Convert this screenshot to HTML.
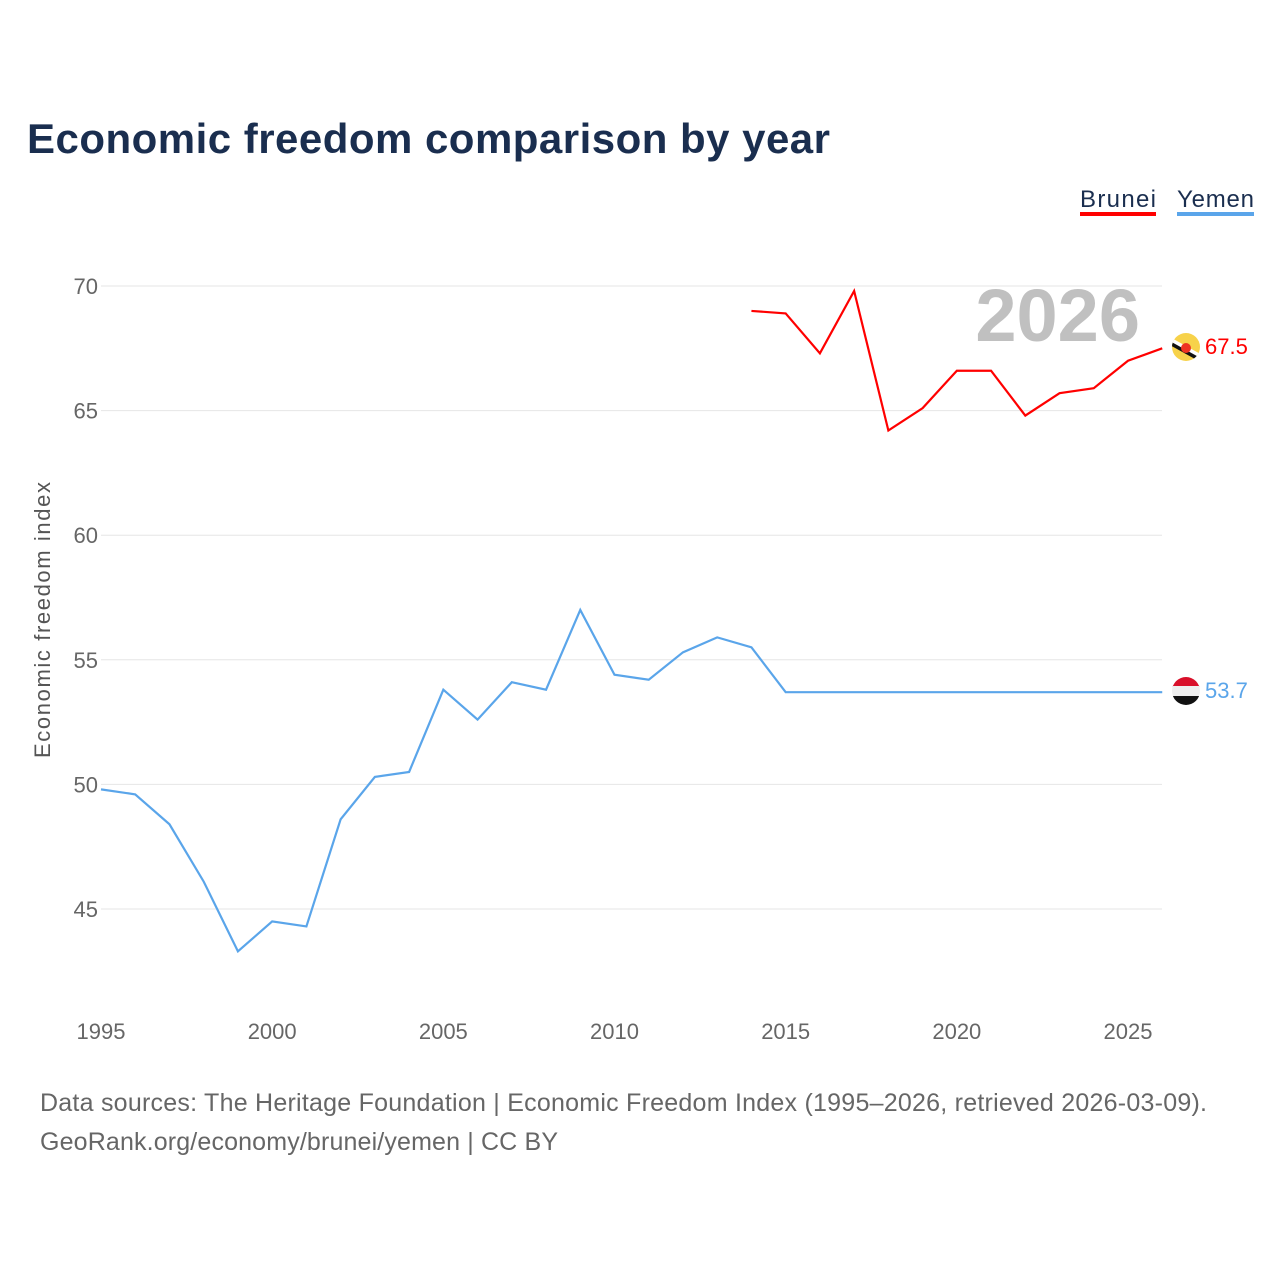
<!DOCTYPE html>
<html><head><meta charset="utf-8"><style>
body{margin:0;background:#fff;font-family:"Liberation Sans",sans-serif}
svg text{font-family:"Liberation Sans",sans-serif}
</style></head><body>
<svg id="chart" width="1280" height="1280" xmlns="http://www.w3.org/2000/svg">
<text x="27" y="153" font-size="42" font-weight="bold" fill="#1a2e4f" textLength="803">Economic freedom comparison by year</text>
<g><text x="1080" y="207" font-size="24" fill="#1a2e4f" textLength="76">Brunei</text><rect x="1080" y="212" width="76" height="4" fill="#ff0000"/></g>
<g><text x="1177" y="207" font-size="24" fill="#1a2e4f" textLength="77">Yemen</text><rect x="1177" y="212" width="77" height="4" fill="#5aa5ea"/></g>
<text x="1140" y="341" font-size="74" font-weight="bold" fill="#c0c0c0" text-anchor="end">2026</text>
<g id="grid"></g><g id="xt"></g><g id="lines"></g>
<text transform="translate(50,620) rotate(-90)" font-size="22" fill="#555" text-anchor="middle" textLength="276">Economic freedom index</text>
<g>
<clipPath id="cb"><circle cx="1186" cy="347" r="14"/></clipPath>
<g clip-path="url(#cb)"><rect x="1170" y="331" width="32" height="32" fill="#f7d24a"/><polygon points="1168,336 1204,356 1204,362 1168,342" fill="#fff"/><polygon points="1168,340 1204,360 1204,364 1168,344" fill="#111"/><circle cx="1186" cy="348" r="5" fill="#e32"/></g></g>
<g>
<clipPath id="cy"><circle cx="1186" cy="691" r="14"/></clipPath>
<g clip-path="url(#cy)"><rect x="1170" y="676" width="32" height="11" fill="#d9102a"/><rect x="1170" y="686" width="32" height="10" fill="#eee"/><rect x="1170" y="696" width="32" height="11" fill="#111"/></g></g>
<text x="1205" y="354" font-size="22" fill="#ff0000">67.5</text>
<text x="1205" y="698" font-size="22" fill="#5aa5ea">53.7</text>
<text x="40" y="1111" font-size="25" fill="#666" textLength="1167">Data sources: The Heritage Foundation | Economic Freedom Index (1995–2026, retrieved 2026-03-09).</text>
<text x="40" y="1150" font-size="25" fill="#666" textLength="518">GeoRank.org/economy/brunei/yemen | CC BY</text>
</svg>
<script>
const yemenYears=[1995,1996,1997,1998,1999,2000,2001,2002,2003,2004,2005,2006,2007,2008,2009,2010,2011,2012,2013,2014,2015,2016,2017,2018,2019,2020,2021,2022,2023,2024,2025,2026];
const yemenValues=[49.8,49.6,48.4,46.1,43.3,44.5,44.3,48.6,50.3,50.5,53.8,52.6,54.1,53.8,57.0,54.4,54.2,55.3,55.9,55.5,53.7,53.7,53.7,53.7,53.7,53.7,53.7,53.7,53.7,53.7,53.7,53.7];
const bruneiYears=[2014,2015,2016,2017,2018,2019,2020,2021,2022,2023,2024,2025,2026];
const bruneiValues=[69.0,68.9,67.3,69.8,64.2,65.1,66.6,66.6,64.8,65.7,65.9,67.0,67.5];
const yTicks=[45,50,55,60,65,70];
const xTicks=[1995,2000,2005,2010,2015,2020,2025];
const NS="http://www.w3.org/2000/svg";
const x=v=>101+(v-1995)*(1128-101)/30;
const y=v=>286+(70-v)*(909-286)/25;
const grid=document.getElementById('grid');
yTicks.forEach(t=>{
 const l=document.createElementNS(NS,'line');
 l.setAttribute('x1',101);l.setAttribute('x2',1162);l.setAttribute('y1',y(t));l.setAttribute('y2',y(t));
 l.setAttribute('stroke','#e6e6e6');
 
 
 grid.appendChild(l);
 const tx=document.createElementNS(NS,'text');
 tx.setAttribute('x',98);tx.setAttribute('y',y(t)+8);tx.setAttribute('text-anchor','end');
 tx.setAttribute('font-size','22');tx.setAttribute('fill','#666');tx.textContent=t;
 
 
 grid.appendChild(tx);
});
const xt=document.getElementById('xt');
xTicks.forEach(t=>{
 const tx=document.createElementNS(NS,'text');
 tx.setAttribute('x',x(t));tx.setAttribute('y',1039);tx.setAttribute('text-anchor','middle');
 tx.setAttribute('font-size','22');tx.setAttribute('fill','#666');tx.textContent=t;
 
 
 xt.appendChild(tx);
});
const lines=document.getElementById('lines');
function draw(xs,vs,c,name){
 const p=document.createElementNS(NS,'polyline');
 p.setAttribute('points',xs.map((a,i)=>x(a)+','+y(vs[i])).join(' '));
 p.setAttribute('fill','none');p.setAttribute('stroke',c);p.setAttribute('stroke-width','2.2');
 
 
 lines.appendChild(p);
}
draw(yemenYears,yemenValues,'#5aa5ea','yemen-line');
draw(bruneiYears,bruneiValues,'#ff0000','brunei-line');
</script>
</body></html>
